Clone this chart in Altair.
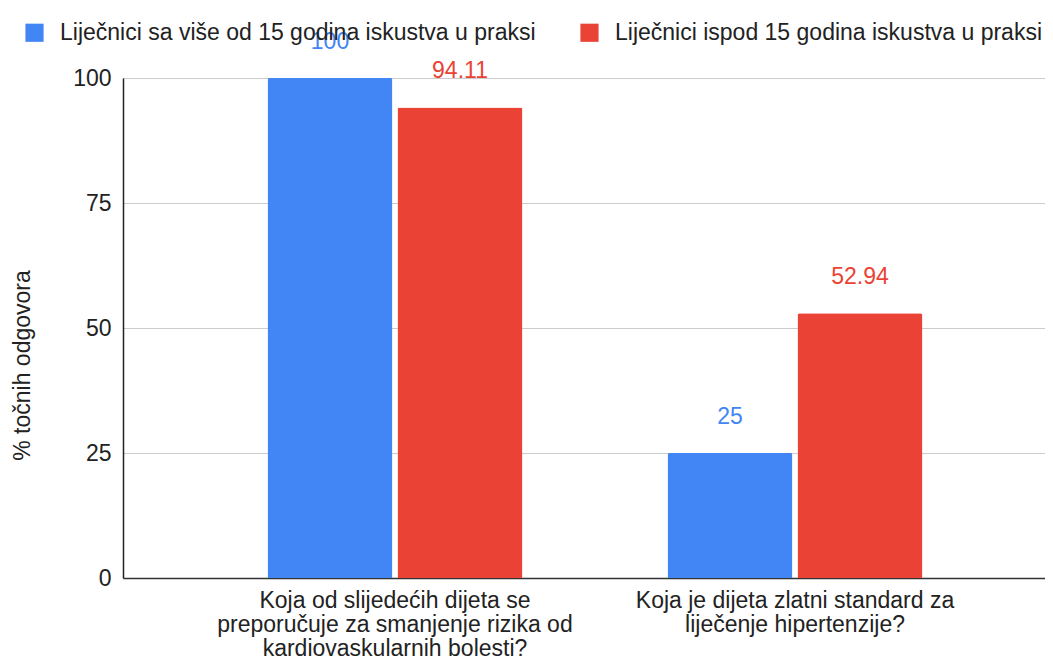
import altair as alt
import pandas as pd

categories = [
    "Koja od slijedećih dijeta se|preporučuje za smanjenje rizika od|kardiovaskularnih bolesti?",
    "Koja je dijeta zlatni standard za|liječenje hipertenzije?",
]
series = [
    "Liječnici sa više od 15 godina iskustva u praksi",
    "Liječnici ispod 15 godina iskustva u praksi",
]
values_senior = [100, 25]
values_junior = [94.11, 52.94]
colors = ["#4285F4", "#EA4335"]

rows = []
for i, c in enumerate(categories):
    rows.append({"cat": c, "series": series[0], "value": values_senior[i]})
    rows.append({"cat": c, "series": series[1], "value": values_junior[i]})
df = pd.DataFrame(rows)

FONT = "Liberation Sans"
FS = 23

x_enc = alt.X(
    "cat:N",
    sort=categories,
    scale=alt.Scale(range=[0, 944], paddingInner=0.3625, paddingOuter=0.36125),
    axis=alt.Axis(
        title=None,
        labelAngle=0,
        labelExpr="split(datum.label, '|')",
        labelFontSize=FS,
        labelLineHeight=24,
        labelPadding=11,
        labelColor="#222222",
        labelFont=FONT,
        labelLimit=600,
        ticks=False,
        domainColor="#333333",
        domainWidth=1.5,
        grid=False,
    ),
)
xoff = alt.XOffset("series:N", sort=series, scale=alt.Scale(paddingInner=5 / 130, paddingOuter=0))
y_enc = alt.Y(
    "value:Q",
    scale=alt.Scale(domain=[0, 100], nice=False),
    axis=alt.Axis(
        title="% točnih odgovora",
        titleFont=FONT,
        titleFontSize=FS,
        titleFontWeight="normal",
        titleColor="#222222",
        titleX=-101,
        titleY=287,
        titleAngle=-90,
        titleBaseline="middle",
        titleAlign="center",
        values=[0, 25, 50, 75, 100],
        labelFontSize=FS,
        labelFont=FONT,
        labelColor="#222222",
        labelPadding=12,
        ticks=False,
        domainColor="#222222",
        domainWidth=1.5,
        gridColor="#cccccc",
        gridWidth=1.2,
    ),
)
color_scale = alt.Scale(domain=series, range=colors)

bars = alt.Chart(df).mark_bar(cornerRadiusTopLeft=2, cornerRadiusTopRight=2).encode(
    x=x_enc,
    xOffset=xoff,
    y=y_enc,
    color=alt.Color(
        "series:N",
        sort=series,
        scale=color_scale,
        legend=alt.Legend(
            title=None,
            orient="none",
            direction="horizontal",
            legendX=-100,
            legendY=-57,
            symbolType="square",
            symbolSize=330,
            symbolStrokeWidth=0,
            symbolOpacity=1,
            labelFontSize=FS,
            labelFont=FONT,
            labelColor="#222222",
            labelLimit=700,
            labelOffset=14,
            columnPadding=42,
        ),
    ),
)

labels = alt.Chart(df).mark_text(
    font=FONT, fontSize=FS, baseline="middle", dy=-36
).encode(
    x=alt.X("cat:N", sort=categories),
    xOffset=alt.XOffset("series:N", sort=series),
    y=alt.Y("value:Q"),
    text=alt.Text("value:Q", format=".4~f"),
    color=alt.Color("series:N", sort=series, scale=color_scale, legend=None),
)

chart = (
    alt.layer(bars, labels)
    .properties(
        width=922,
        height=500,
        autosize=alt.AutoSizeParams(type="none"),
        padding={"left": 115, "top": 70, "right": 0, "bottom": 80},
    )
    .configure_view(stroke=None)
)

chart.save("out.html", embed_options={"renderer": "svg", "actions": False})
